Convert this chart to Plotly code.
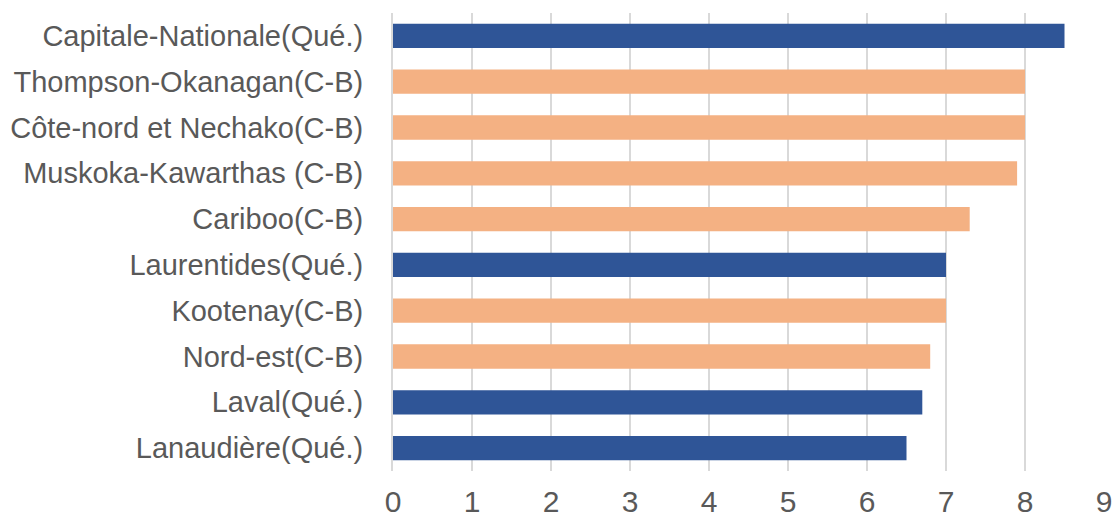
import plotly.graph_objects as go

# Regions (top to bottom) and their values
regions = [
    "Capitale-Nationale(Qué.)",
    "Thompson-Okanagan(C-B)",
    "Côte-nord et Nechako(C-B)",
    "Muskoka-Kawarthas (C-B)",
    "Cariboo(C-B)",
    "Laurentides(Qué.)",
    "Kootenay(C-B)",
    "Nord-est(C-B)",
    "Laval(Qué.)",
    "Lanaudière(Qué.)",
]
values = [8.5, 8.0, 8.0, 7.9, 7.3, 7.0, 7.0, 6.8, 6.7, 6.5]
province = ["Qué.", "C-B", "C-B", "C-B", "C-B", "Qué.", "C-B", "C-B", "Qué.", "Qué."]

colour_by_province = {"Qué.": "#2F5597", "C-B": "#F4B183"}
bar_colours = [colour_by_province[p] for p in province]

fig = go.Figure(
    go.Bar(
        x=values,
        y=regions,
        orientation="h",
        marker=dict(color=bar_colours, line=dict(width=0)),
        showlegend=False,
    )
)

fig.update_layout(
    width=1114,
    height=519,
    margin=dict(l=393, r=10, t=13, b=48),
    paper_bgcolor="white",
    plot_bgcolor="white",
    bargap=0.47,
    font=dict(family="Liberation Sans, Arial, sans-serif", color="#595959", size=29),
)

fig.update_xaxes(
    range=[0, 9],
    dtick=1,
    showgrid=True,
    gridcolor="#D9D9D9",
    gridwidth=2,
    zeroline=False,
    showline=False,
    ticks="",
    automargin=False,
    ticklabelstandoff=10,
    tickfont=dict(size=30, color="#595959"),
)

fig.update_yaxes(
    autorange="reversed",
    showgrid=False,
    zeroline=False,
    showline=True,
    linecolor="#D9D9D9",
    linewidth=2,
    ticks="",
    automargin=False,
    ticklabelstandoff=22,
    tickfont=dict(size=29, color="#595959"),
)

fig.write_html("out.html")
